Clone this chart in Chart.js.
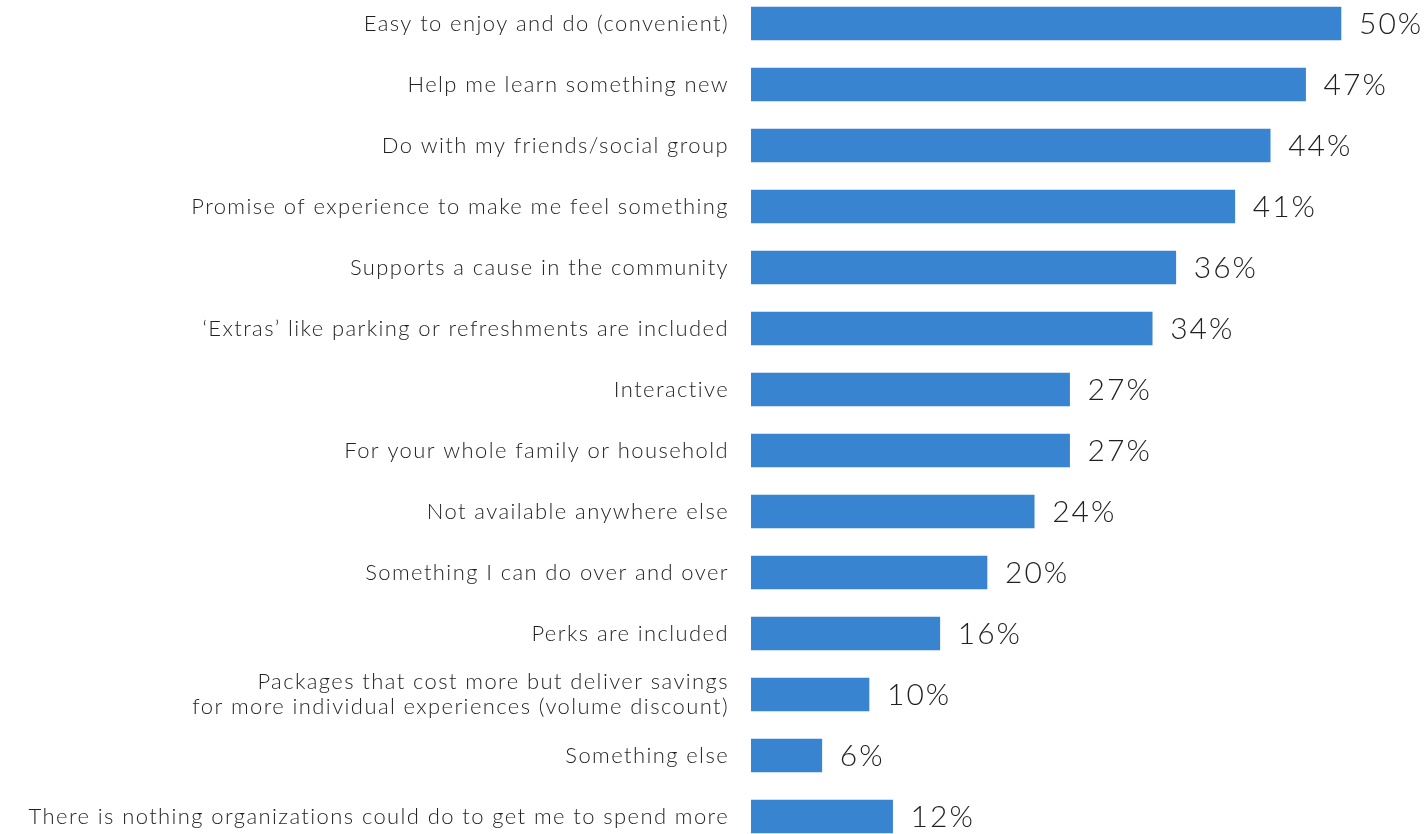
<!DOCTYPE html>
<html lang="en">
<head>
  <meta charset="UTF-8">
  <title>What would get you to spend more</title>
  <script src="https://cdn.jsdelivr.net/npm/chart.js"></script>
  <style>
    html, body {
      margin: 0;
      padding: 0;
      background: #ffffff;
      overflow: hidden;
    }
    .chart-wrap {
      position: absolute;
      left: 0;
      top: -7px;
      width: 1425px;
      height: 854px;
    }
  </style>
</head>
<body>
<div class="chart-wrap">
  <canvas id="myChart"></canvas>
</div>
<script>
  const labels = [
    'Easy to enjoy and do (convenient)',
    'Help me learn something new',
    'Do with my friends/social group',
    'Promise of experience to make me feel something',
    'Supports a cause in the community',
    '\u2018Extras\u2019 like parking or refreshments are included',
    'Interactive',
    'For your whole family or household',
    'Not available anywhere else',
    'Something I can do over and over',
    'Perks are included',
    ['Packages that cost more but deliver savings', 'for more individual experiences (volume discount)'],
    'Something else',
    'There is nothing organizations could do to get me to spend more'
  ];
  const values = [50, 47, 44, 41, 36, 34, 27, 27, 24, 20, 16, 10, 6, 12];

  const barColor = '#3884d0';
  const textColor = '#231f20';

  // a little tracking on the tick labels
  const tracking = {
    id: 'tracking',
    beforeDraw(chart) {
      chart.ctx.letterSpacing = '1.4px';
    }
  };

  // value labels just past the end of each bar
  const valueLabels = {
    id: 'valueLabels',
    afterDatasetsDraw(chart) {
      const { ctx } = chart;
      const meta = chart.getDatasetMeta(0);
      ctx.save();
      ctx.letterSpacing = '2px';
      ctx.font = '300 30px Lato';
      ctx.fillStyle = textColor;
      ctx.textAlign = 'left';
      ctx.textBaseline = 'middle';
      meta.data.forEach((bar, i) => {
        ctx.fillText(values[i] + '%', bar.x + 18, bar.y + 1);
      });
      ctx.restore();
    }
  };

  const ctx = document.getElementById('myChart').getContext('2d');
  const myChart = new Chart(ctx, {
    type: 'bar',
    data: {
      labels: labels,
      datasets: [{
        data: values,
        backgroundColor: barColor,
        borderWidth: 0,
        barThickness: 33
      }]
    },
    options: {
      indexAxis: 'y',
      responsive: true,
      maintainAspectRatio: false,
      animation: false,
      layout: { padding: 0 },
      plugins: {
        legend: { display: false },
        tooltip: { enabled: false }
      },
      scales: {
        x: {
          display: false,
          min: 0,
          max: 57.12
        },
        y: {
          grid: { display: false },
          border: { display: false },
          afterFit(scale) {
            scale.width = 751;
            scale.paddingTop = 0;
            scale.paddingBottom = 0;
          },
          ticks: {
            padding: 14,
            color: textColor,
            font: { family: 'Lato', size: 22, weight: '300', lineHeight: 1.14 }
          }
        }
      }
    },
    plugins: [tracking, valueLabels]
  });
</script>
</body>
</html>
